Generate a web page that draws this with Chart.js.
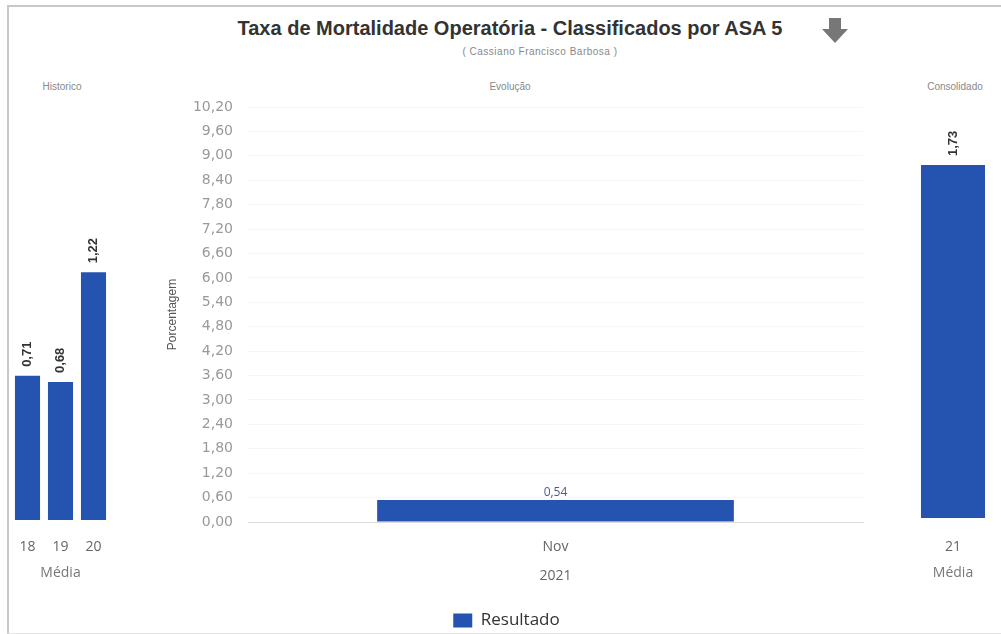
<!DOCTYPE html>
<html lang="pt-BR">
<head>
  <meta charset="utf-8">
  <title>Taxa de Mortalidade Operatória</title>
  <script src="https://cdn.jsdelivr.net/npm/chart.js@4/dist/chart.umd.min.js"></script>
  <style>
    body { margin: 0; background: #fff; width: 1001px; height: 634px; overflow: hidden; position: relative; }
    .frame { position: absolute; left: 7px; top: 5px; width: 1000px; height: 626px; border-left: 2px solid #c8c8c8; border-top: 2px solid #c8c8c8; border-bottom: 1px solid #e4e4e4; }
    .lbl { position: absolute; font-family: "Liberation Sans", Arial, sans-serif; color: #888; font-size: 10px; transform: translateX(-50%); white-space: nowrap; }
    .title { position: absolute; left: 510px; top: 17px; transform: translateX(-50%); font-family: "Liberation Sans", Arial, sans-serif; font-weight: bold; font-size: 20px; color: #333; white-space: nowrap; }
    canvas { position: absolute; }
    #arrow { position: absolute; left: 822px; top: 18px; }
  </style>
</head>
<body>
  <div class="frame"></div>
  <div class="title">Taxa de Mortalidade Operatória - Classificados por ASA 5</div>
  <div class="lbl" style="left:540px; top:46px; letter-spacing:0.5px;">( Cassiano Francisco Barbosa )</div>
  <svg id="arrow" width="26" height="25" viewBox="0 0 26 25">
    <polygon points="7,0 19,0 19,11 26,11 13,25 0,11 7,11" fill="#777"/>
  </svg>
  <div class="lbl" style="left:62px; top:81px;">Historico</div>
  <div class="lbl" style="left:510px; top:81px;">Evolução</div>
  <div class="lbl" style="left:955px; top:81px;">Consolidado</div>

  <canvas id="hist" style="left:11px; top:70px; width:99px; height:521px;"></canvas>
  <canvas id="evo" style="left:150px; top:70px; width:720px; height:569px;"></canvas>
  <canvas id="cons" style="left:905px; top:70px; width:96px; height:521px;"></canvas>

  <script>
    // dados
    const histLabels = ['18', '19', '20'];
    const histValues = [0.71, 0.68, 1.22];
    const evoLabels = ['Nov'];
    const evoValues = [0.54];
    const consLabels = ['21'];
    const consValues = [1.73];

    const blue = '#2553b0';
    const fmt = v => Number(v).toFixed(2).replace('.', ',');

    // rótulos sobre as barras
    const barLabels = {
      id: 'barLabels',
      afterDatasetsDraw(chart, args, opts) {
        const ctx = chart.ctx;
        chart.data.datasets.forEach((ds, i) => {
          chart.getDatasetMeta(i).data.forEach((bar, j) => {
            const txt = fmt(ds.data[j]);
            ctx.save();
            if (opts.rotate) {
              ctx.translate(bar.x, bar.y - 9);
              ctx.rotate(-Math.PI / 2);
              ctx.font = 'bold 13px "Liberation Sans", Arial, sans-serif';
              ctx.fillStyle = '#333';
              ctx.textAlign = 'left';
              ctx.textBaseline = 'middle';
              ctx.fillText(txt, 0, 0);
            } else {
              ctx.font = '12px "Open Sans", sans-serif';
              ctx.textAlign = 'center';
              ctx.textBaseline = 'bottom';
              ctx.lineWidth = 4;
              ctx.strokeStyle = '#fff';
              ctx.strokeText(txt, bar.x, bar.y - 1);
              ctx.fillStyle = '#4a5e86';
              ctx.fillText(txt, bar.x, bar.y - 1);
            }
            ctx.restore();
          });
        });
      }
    };

    function sideChart(id, labels, values, barPct, padTop, axisH, tickPad) {
      return new Chart(id, {
        type: 'bar',
        data: {
          labels: labels,
          datasets: [{ label: 'Média', data: values, backgroundColor: blue, barPercentage: barPct, categoryPercentage: 1 }]
        },
        options: {
          responsive: false,
          animation: false,
          layout: { padding: { top: padTop, bottom: 0, left: 0, right: 0 } },
          plugins: { legend: { display: false }, tooltip: { enabled: false }, barLabels: { rotate: true } },
          scales: {
            y: { display: false, min: 0, max: 2 },
            x: {
              afterFit: s => { s.height = axisH; s.paddingLeft = 0; s.paddingRight = 0; },
              grid: { display: false, drawTicks: false },
              border: { display: false },
              ticks: { padding: tickPad, maxRotation: 0, minRotation: 0, autoSkip: false, color: '#666', font: { family: '"Open Sans", sans-serif', size: 14 } },
              title: { display: true, text: 'Média', color: '#777', padding: { top: 9, bottom: 10 }, font: { family: '"Open Sans", sans-serif', size: 14 } }
            }
          }
        },
        plugins: [barLabels]
      });
    }

    function setSize(id) {
      const c = document.getElementById(id);
      c.width = parseInt(c.style.width);
      c.height = parseInt(c.style.height);
    }
    ['hist', 'evo', 'cons'].forEach(setSize);

    sideChart('hist', histLabels, histValues, 0.76, 44, 71, 19);
    sideChart('cons', consLabels, consValues, 0.667, 40, 73, 21);

    new Chart('evo', {
      type: 'bar',
      data: {
        labels: evoLabels,
        datasets: [{ label: 'Resultado', data: evoValues, backgroundColor: blue, barPercentage: 0.58, categoryPercentage: 1 }]
      },
      options: {
        responsive: false,
        animation: false,
        layout: { padding: { top: 37, bottom: 0, left: 0, right: 7 } },
        plugins: {
          tooltip: { enabled: false },
          barLabels: { rotate: false },
          legend: {
            position: 'bottom',
            labels: { boxWidth: 19, boxHeight: 14, padding: 8, color: '#333', font: { family: '"Open Sans", sans-serif', size: 17 } }
          }
        },
        scales: {
          y: {
            min: 0, max: 10.2,
            afterFit: s => { s.width = 98; },
            grid: { color: 'rgba(0,0,0,0.035)', drawTicks: false },
            border: { display: false },
            ticks: { stepSize: 0.6, padding: 15, color: '#999', font: { family: '"DejaVu Sans", sans-serif', size: 14 }, callback: v => fmt(v) },
            title: { display: true, text: 'Porcentagem', color: '#555', padding: { top: 15, bottom: 0 }, font: { family: '"Liberation Sans", Arial, sans-serif', size: 12 } }
          },
          x: {
            afterFit: s => { s.height = 82; },
            grid: { display: false, drawTicks: false },
            border: { display: true, color: '#dcdcdc' },
            ticks: { padding: 17, maxRotation: 0, color: '#666', font: { family: '"Open Sans", sans-serif', size: 14 } },
            title: { display: true, text: '2021', color: '#666', padding: { top: 9, bottom: 20 }, font: { family: '"Open Sans", sans-serif', size: 14 } }
          }
        }
      },
      plugins: [barLabels]
    });
  </script>
</body>
</html>
